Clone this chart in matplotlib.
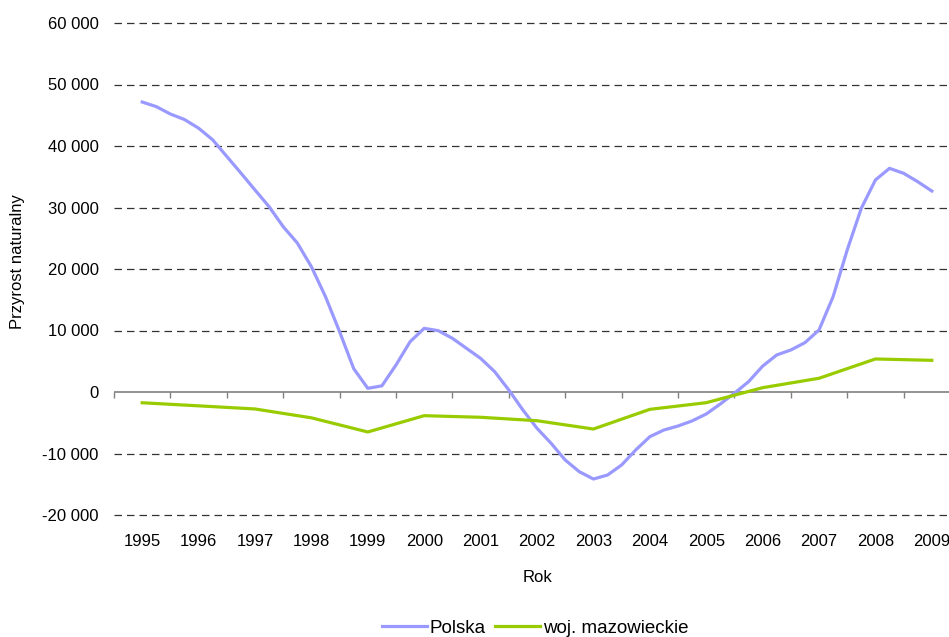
import numpy as np
import matplotlib

matplotlib.use("Agg")
import matplotlib.pyplot as plt
from matplotlib.ticker import FixedLocator, FuncFormatter

plt.rcParams["font.family"] = ["Liberation Sans", "DejaVu Sans"]

years = [str(y) for y in range(1995, 2010)]

# Polska - wartości kwartalne
polska = [
    47150, 46400, 45200, 44300,
    42900, 41000, 38300, 35600,
    32850, 30130, 26880, 24230,
    20370, 15500, 9800, 3800,
    600, 1000, 4390, 8180,
    10350, 9970, 8730, 7100,
    5470, 3300, 330, -2930,
    -5900, -8340, -11060, -12960,
    -14150, -13500, -11870, -9430,
    -7270, -6180, -5530, -4700,
    -3580, -1950, -200, 1670,
    4200, 6020, 6830, 8020,
    10080, 15500, 23090, 29870,
    34470, 36370, 35560, 34200,
    32680,
]
polska_pos = np.arange(len(polska)) / 4.0

mazowieckie = [-1750, -2250, -2760, -4200, -6500, -3850, -4110, -4670,
               -6020, -2820, -1740, 700, 2230, 5370, 5150]

BLUE = "#9999FF"
GREEN = "#99CC00"

fig = plt.figure(figsize=(9.49, 6.37), dpi=100)
ax = fig.add_axes([114 / 949, 122 / 637, 846 / 949, 492 / 637])

ax.plot(polska_pos, polska, color=BLUE, lw=2.3, solid_joinstyle="round",
        label="Polska", zorder=3)
ax.plot(range(len(years)), mazowieckie, color=GREEN, lw=2.3,
        solid_joinstyle="round", label="woj. mazowieckie", zorder=3)

ax.set_xlim(-0.5, len(years) - 0.5)
ax.set_ylim(-20000, 60000)

# siatka pozioma
for v in range(-20000, 60001, 10000):
    if v == 0:
        continue
    ax.axhline(v, color="#333333", lw=0.9, ls=(0, (6, 4)), zorder=1,
               clip_on=False)
ax.axhline(0, color="#808080", lw=1.2, zorder=2)

for s in ax.spines.values():
    s.set_visible(False)

ax.yaxis.set_major_locator(FixedLocator(range(-20000, 60001, 10000)))
ax.yaxis.set_major_formatter(
    FuncFormatter(lambda v, p: f"{v:,.0f}".replace(",", " ")))
ax.tick_params(axis="y", length=0, pad=11, labelsize=12)

# znaczniki na osi zero (granice kategorii)
ax.spines["bottom"].set_position(("data", 0))
ax.set_xticks(np.arange(-0.5, len(years), 1.0))
ax.set_xticklabels([])
ax.tick_params(axis="x", direction="out", length=4, width=1, color="#808080")

sec = ax.secondary_xaxis(0.0)
sec.set_xticks(range(len(years)))
sec.set_xticklabels(years)
sec.tick_params(length=0, pad=14, labelsize=12)
sec.spines["bottom"].set_visible(False)

fig.text(537 / 949, 1 - 577 / 637, "Rok", ha="center", va="center", fontsize=12)
fig.text(18 / 949, 1 - 262 / 637, "Przyrost naturalny", rotation=90,
         ha="center", va="center", fontsize=12)

fig.legend(loc="center", bbox_to_anchor=(535 / 949, 1 - 628 / 637), ncol=2,
           frameon=False, fontsize=13.5, handlelength=2.4, handletextpad=0.15,
           columnspacing=0.5)

fig.savefig("out.png", dpi=100)
